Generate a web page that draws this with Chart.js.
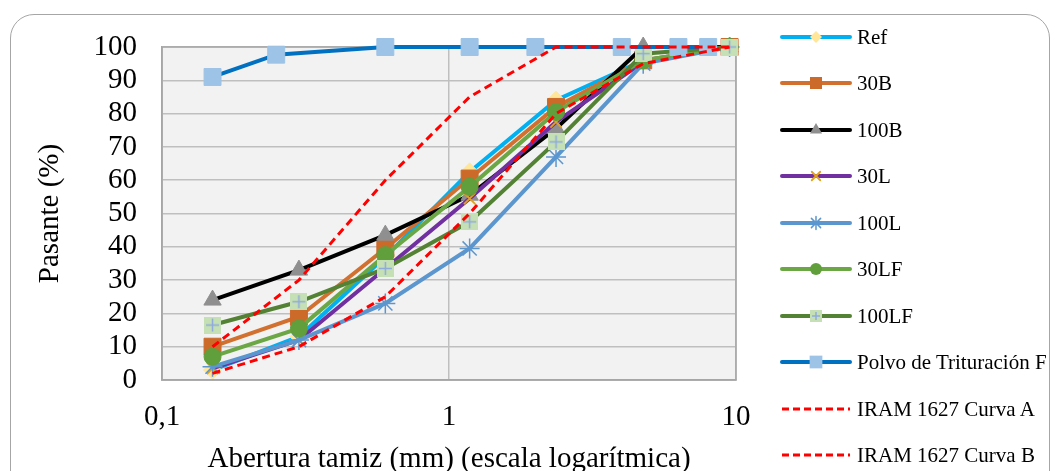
<!DOCTYPE html>
<html><head><meta charset="utf-8">
<script src="https://cdn.jsdelivr.net/npm/chart.js@4.4.1/dist/chart.umd.min.js"></script>
<style>
html,body{margin:0;padding:0;background:#fff;}
#wrap{position:relative;width:1055px;height:471px;overflow:hidden;font-family:'Liberation Serif','Times New Roman',serif;}
#frame{position:absolute;left:10px;top:14px;width:1040px;height:500px;border:1.3px solid #A6A6A6;border-radius:24px;box-sizing:border-box;}
#c{position:absolute;left:0;top:0;}
#legend{position:absolute;left:0;top:0;width:1055px;height:471px;}
.li{position:absolute;height:30px;line-height:30px;font-size:21px;color:#000;white-space:nowrap;}
.ls{position:absolute;}
</style></head><body>
<div id="wrap"><div id="frame"></div><canvas id="c" width="1055" height="471"></canvas><div id="legend"></div></div>
<script>
// ---- data ----
const sieves      = [0.15, 0.3, 0.6, 1.18, 2.36, 4.75, 9.5];
const polvoSieves = [0.15, 0.25, 0.6, 1.18, 2, 4, 6.3, 8];
const refVals   = [3, 13, 37, 62.5, 84, 96, 100];
const b30Vals   = [10, 19, 39.5, 60.5, 82, 96, 100];
const b100Vals  = [24, 33, 43.5, 55.5, 75.5, 100, 100];
const l30Vals   = [3.5, 12, 33.5, 54.5, 77.5, 95.5, 100];
const l100Vals  = [4, 12, 23, 39.5, 67, 95, 100];
const lf30Vals  = [7, 15.5, 37.5, 58, 80.5, 96, 100];
const lf100Vals = [16.5, 23.5, 33.5, 47.5, 71.5, 98, 100];
const polvoVals = [91, 97.7, 100, 100, 100, 100, 100, 100];
const iramAVals = [10, 30, 60, 85, 100, 100, 100];
const iramBVals = [2, 10, 25, 50, 80, 95, 100];
const seriesNames = ['Ref','30B','100B','30L','100L','30LF','100LF','Polvo de Trituración F','IRAM 1627 Curva A','IRAM 1627 Curva B'];
const xTickValues = [0.1, 1, 10];
const xTickLabels = ['0,1', '1', '10'];
const yTickStep = 10;

const FONT = "'Liberation Serif','Times New Roman',serif";

function pts(xs, ys){ return xs.map((x,i)=>({x:x, y:ys[i]})); }

function lfMarker(size){
  const c = document.createElement('canvas');
  c.width = size; c.height = size;
  const g = c.getContext('2d');
  g.fillStyle = '#C5E0B4'; g.fillRect(0,0,size,size);
  g.strokeStyle = '#8FAADC'; g.lineWidth = 1.5;
  g.beginPath();
  g.moveTo(size/2, 2); g.lineTo(size/2, size-2);
  g.moveTo(2, size/2); g.lineTo(size-2, size/2);
  g.stroke();
  return c;
}

const styles = [
  {line:'#00B0F0', w:4, ps:'rectRot', r:9, bg:'#FFE699', bc:'#FFE699', bw:1, lr:6},
  {line:'#D2702F', w:4, ps:'rect', r:12, bg:'#CC6A2A', bc:'#CC6A2A', bw:1, lr:8.5},
  {line:'#000000', w:4, ps:'triangle', r:10, bg:'#8F8F8F', bc:'#8F8F8F', bw:1, lr:7},
  {line:'#7030A0', w:4, ps:'crossRot', r:8, bg:'#E3A21A', bc:'#E3A21A', bw:1.8, lr:6},
  {line:'#5B96CF', w:4, ps:'star', r:10, bg:'#5B96CF', bc:'#5B96CF', bw:1.5, lr:6.5},
  {line:'#6BA845', w:4, ps:'circle', r:8.5, bg:'#619E3C', bc:'#619E3C', bw:1, lr:6},
  {line:'#548235', w:4, ps:lfMarker(17), r:9, bg:'#C5E0B4', bc:'#C5E0B4', bw:1, lr:6, legImg:lfMarker(12)},
  {line:'#0070C0', w:4, ps:'rect', r:12, bg:'#9DC3E6', bc:'#9DC3E6', bw:1, lr:9},
  {line:'#FF0000', w:3, dash:[8,5], ps:false, r:0},
  {line:'#FF0000', w:3, dash:[8,5], ps:false, r:0}
];
const seriesData = [
  pts(sieves, refVals), pts(sieves, b30Vals), pts(sieves, b100Vals), pts(sieves, l30Vals),
  pts(sieves, l100Vals), pts(sieves, lf30Vals), pts(sieves, lf100Vals), pts(polvoSieves, polvoVals),
  pts(sieves, iramAVals), pts(sieves, iramBVals)
];

const datasets = seriesData.map((d,i)=>{
  const s = styles[i];
  return {
    label: seriesNames[i], data: d,
    borderColor: s.line, backgroundColor: s.line, borderWidth: s.w,
    borderDash: s.dash || [], tension: 0, fill: false,
    pointStyle: s.ps, pointRadius: s.r, pointHoverRadius: s.r,
    pointBackgroundColor: s.bg, pointBorderColor: s.bc, pointBorderWidth: s.bw,
    clip: false, order: seriesNames.length - i
  };
});

const bgPlugin = {
  id:'bg',
  beforeDraw(chart){
    const a = chart.chartArea, ctx = chart.ctx;
    ctx.save(); ctx.fillStyle = '#F2F2F2';
    ctx.fillRect(a.left, a.top, a.right-a.left, a.bottom-a.top);
    ctx.restore();
  },
  beforeDatasetsDraw(chart){
    const a = chart.chartArea, ctx = chart.ctx;
    ctx.save(); ctx.strokeStyle = '#A6A6A6'; ctx.lineWidth = 1.5;
    ctx.strokeRect(a.left, a.top, a.right-a.left, a.bottom-a.top);
    ctx.restore();
  }
};

new Chart(document.getElementById('c'), {
  type: 'line',
  data: { datasets },
  options: {
    responsive:false, animation:false, devicePixelRatio:1,
    layout:{ padding:{ left:10, right:319, top:47, bottom:0 } },
    plugins:{ legend:{display:false}, tooltip:{enabled:false} },
    scales:{
      x:{
        type:'logarithmic', min:0.1, max:10, position:'bottom',
        afterBuildTicks: s => { s.ticks = xTickValues.map(v=>({value:v})); },
        afterFit: s => { s.height = 91; },
        ticks:{ autoSkip:false, maxRotation:0, padding:20, color:'#000',
          font:{family:FONT, size:29}, callback:(v,i)=>xTickLabels[i] },
        grid:{ color:'#BFBFBF', lineWidth:1.5, drawTicks:false },
        border:{ color:'#A6A6A6', width:1.5 },
        title:{ display:true, text:'Abertura tamiz (mm) (escala logarítmica)', color:'#000',
          font:{family:FONT, size:29, lineHeight:1}, padding:{top:0,bottom:-3} }
      },
      y:{
        min:0, max:100,
        afterFit: s => { s.width = 152; },
        ticks:{ stepSize:yTickStep, autoSkip:false, padding:25, color:'#000', font:{family:FONT, size:29} },
        grid:{ color:'#BFBFBF', lineWidth:1.5, drawTicks:false },
        border:{ color:'#A6A6A6', width:1.5 },
        title:{ display:true, text:'Pasante (%)', color:'#000',
          font:{family:FONT, size:29, lineHeight:1}, padding:{top:26,bottom:0} }
      }
    }
  },
  plugins:[bgPlugin]
});

// ---- HTML legend ----
function drawMarker(g, s, x, y){
  const r = s.lr;
  g.save();
  g.fillStyle = s.bg; g.strokeStyle = s.bc; g.lineWidth = s.bw;
  if (s.legImg){ g.drawImage(s.legImg, x - s.legImg.width/2, y - s.legImg.height/2); g.restore(); return; }
  g.beginPath();
  switch(s.ps){
    case 'rect': g.rect(x - r*0.707, y - r*0.707, r*1.414, r*1.414); g.fill(); break;
    case 'rectRot': g.moveTo(x, y-r); g.lineTo(x+r, y); g.lineTo(x, y+r); g.lineTo(x-r, y); g.closePath(); g.fill(); break;
    case 'circle': g.arc(x, y, r, 0, Math.PI*2); g.fill(); break;
    case 'triangle': g.moveTo(x, y-r); g.lineTo(x+r*0.866, y+r*0.5); g.lineTo(x-r*0.866, y+r*0.5); g.closePath(); g.fill(); break;
    case 'crossRot': { const d=r*0.707; g.moveTo(x-d,y-d); g.lineTo(x+d,y+d); g.moveTo(x+d,y-d); g.lineTo(x-d,y+d); g.stroke(); break; }
    case 'star': { const d=r*0.707; g.moveTo(x-d,y-d); g.lineTo(x+d,y+d); g.moveTo(x+d,y-d); g.lineTo(x-d,y+d); g.moveTo(x,y-r); g.lineTo(x,y+r); g.stroke(); break; }
  }
  g.restore();
}
const leg = document.getElementById('legend');
const legTop = 36.7, legStep = 46.5, sampleLeft = 779, sampleW = 74;
seriesNames.forEach((name,i)=>{
  const s = styles[i];
  const cy = legTop + i*legStep;
  const cv = document.createElement('canvas');
  cv.width = sampleW; cv.height = 24; cv.className = 'ls';
  cv.style.left = sampleLeft + 'px'; cv.style.top = (cy - 12) + 'px';
  const g = cv.getContext('2d');
  g.strokeStyle = s.line; g.lineWidth = s.w; g.lineCap = s.dash ? 'butt' : 'round';
  if (s.dash) g.setLineDash([7,4]);
  g.beginPath(); g.moveTo(3, 12); g.lineTo(sampleW-3, 12); g.stroke();
  g.setLineDash([]);
  if (s.ps) drawMarker(g, s, sampleW/2, 12);
  leg.appendChild(cv);
  const t = document.createElement('div');
  t.className = 'li'; t.textContent = name;
  t.style.left = '857px'; t.style.top = (cy - 15) + 'px';
  leg.appendChild(t);
});
</script>
</body></html>
